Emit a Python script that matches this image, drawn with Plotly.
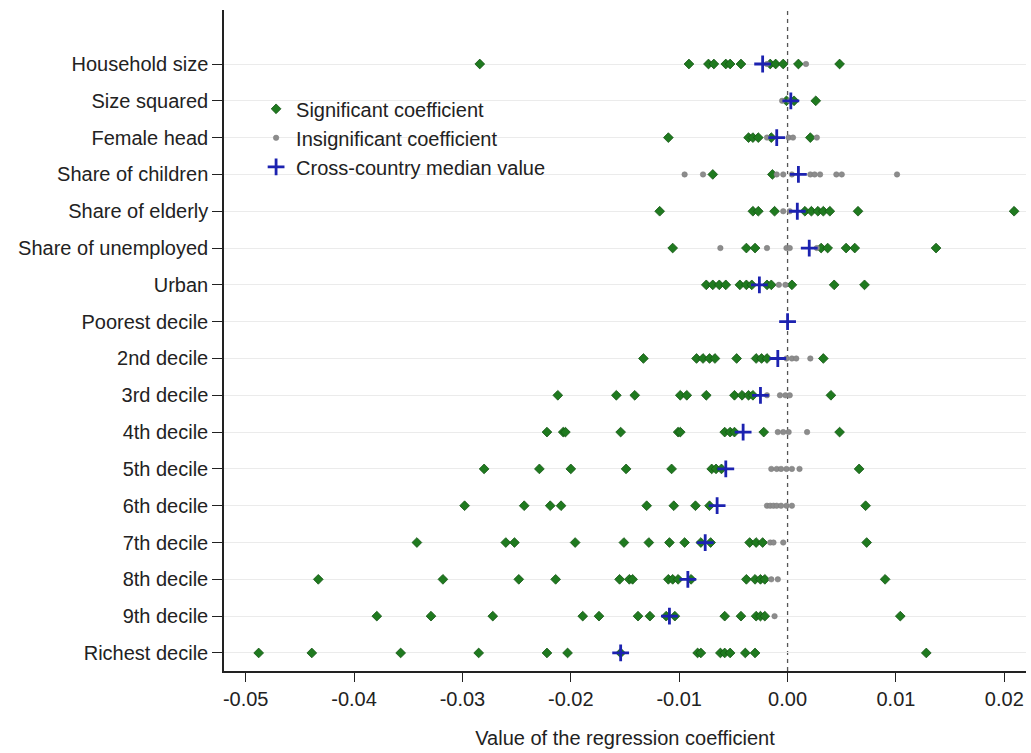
import plotly.graph_objects as go

# Categories, top to bottom
categories = [
    "Household size", "Size squared", "Female head", "Share of children",
    "Share of elderly", "Share of unemployed", "Urban", "Poorest decile",
    "2nd decile", "3rd decile", "4th decile", "5th decile", "6th decile",
    "7th decile", "8th decile", "9th decile", "Richest decile",
]

# Significant coefficients per category
sig_household_size = [-0.0284, -0.0091, -0.0073, -0.0068, -0.0057, -0.0053, -0.0043, -0.0016, -0.0011, -0.0004, 0.0010, 0.0048]
sig_size_squared = [-0.0001, 0.0006, 0.0026]
sig_female_head = [-0.0110, -0.0036, -0.0032, -0.0027, -0.0015, 0.0021]
sig_share_children = [-0.0069, -0.0014]
sig_share_elderly = [-0.0118, -0.0032, -0.0027, -0.0012, 0.0016, 0.0022, 0.0028, 0.0033, 0.0039, 0.0065, 0.0209]
sig_share_unemployed = [-0.0106, -0.0038, -0.0030, 0.0031, 0.0037, 0.0054, 0.0062, 0.0137]
sig_urban = [-0.0075, -0.0069, -0.0063, -0.0057, -0.0044, -0.0038, -0.0033, -0.0019, -0.0015, 0.0004, 0.0043, 0.0071]
sig_poorest = []
sig_2nd = [-0.0133, -0.0084, -0.0078, -0.0072, -0.0067, -0.0047, -0.0029, -0.0024, -0.0019, 0.0033]
sig_3rd = [-0.0212, -0.0158, -0.0141, -0.0099, -0.0093, -0.0075, -0.0049, -0.0042, -0.0036, -0.0032, 0.0040]
sig_4th = [-0.0222, -0.0207, -0.0205, -0.0154, -0.0101, -0.0099, -0.0058, -0.0053, -0.0049, -0.0022, 0.0048]
sig_5th = [-0.0280, -0.0229, -0.0200, -0.0149, -0.0107, -0.0070, -0.0066, -0.0061, 0.0066]
sig_6th = [-0.0298, -0.0243, -0.0219, -0.0209, -0.0130, -0.0105, -0.0085, -0.0072, 0.0072]
sig_7th = [-0.0342, -0.0260, -0.0252, -0.0196, -0.0151, -0.0128, -0.0109, -0.0095, -0.0080, -0.0071, -0.0035, -0.0029, -0.0023, 0.0073]
sig_8th = [-0.0433, -0.0318, -0.0248, -0.0214, -0.0155, -0.0146, -0.0143, -0.0110, -0.0106, -0.0101, -0.0089, -0.0038, -0.0030, -0.0025, -0.0021, 0.0090]
sig_9th = [-0.0379, -0.0329, -0.0272, -0.0189, -0.0174, -0.0138, -0.0127, -0.0112, -0.0104, -0.0058, -0.0043, -0.0029, -0.0025, -0.0021, 0.0104]
sig_richest = [-0.0488, -0.0439, -0.0357, -0.0285, -0.0222, -0.0203, -0.0154, -0.0083, -0.0080, -0.0062, -0.0058, -0.0053, -0.0039, -0.0030, 0.0128]

# Insignificant coefficients per category
ins_household_size = [-0.0019, 0.0017]
ins_size_squared = [-0.0005, 0.0002]
ins_female_head = [-0.0019, 0.0001, 0.0005, 0.0027]
ins_share_children = [-0.0095, -0.0078, -0.0010, -0.0004, 0.0004, 0.0021, 0.0025, 0.0030, 0.0045, 0.0050, 0.0101]
ins_share_elderly = [-0.0004, 0.0002]
ins_share_unemployed = [-0.0062, -0.0019, -0.0001, 0.0002, 0.0027]
ins_urban = [-0.0008, -0.0002]
ins_poorest = []
ins_2nd = [-0.0001, 0.0004, 0.0008, 0.0021]
ins_3rd = [-0.0019, -0.0007, -0.0002, 0.0002]
ins_4th = [-0.0009, -0.0004, 0.0001, 0.0018]
ins_5th = [-0.0015, -0.0010, -0.0006, -0.0001, 0.0004, 0.0011]
ins_6th = [-0.0019, -0.0016, -0.0013, -0.0010, -0.0006, -0.0001, 0.0004]
ins_7th = [-0.0016, -0.0013, -0.0004]
ins_8th = [-0.0015, -0.0009]
ins_9th = [-0.0012]
ins_richest = []

# Cross-country median value per category
medians = [-0.0023, 0.0003, -0.0010, 0.0010, 0.0009, 0.0020, -0.0026, 0.0000,
           -0.0009, -0.0025, -0.0041, -0.0057, -0.0065, -0.0076, -0.0092, -0.0109, -0.0154]

x_ticks = [-0.05, -0.04, -0.03, -0.02, -0.01, 0.00, 0.01, 0.02]
x_tick_labels = ["-0.05", "-0.04", "-0.03", "-0.02", "-0.01", "0.00", "0.01", "0.02"]

significant = [sig_household_size, sig_size_squared, sig_female_head, sig_share_children,
               sig_share_elderly, sig_share_unemployed, sig_urban, sig_poorest, sig_2nd,
               sig_3rd, sig_4th, sig_5th, sig_6th, sig_7th, sig_8th, sig_9th, sig_richest]
insignificant = [ins_household_size, ins_size_squared, ins_female_head, ins_share_children,
                 ins_share_elderly, ins_share_unemployed, ins_urban, ins_poorest, ins_2nd,
                 ins_3rd, ins_4th, ins_5th, ins_6th, ins_7th, ins_8th, ins_9th, ins_richest]

ypos = [-i for i in range(len(categories))]

sx, sy, ix, iy = [], [], [], []
for k, vals in enumerate(significant):
    sx += vals
    sy += [ypos[k]] * len(vals)
for k, vals in enumerate(insignificant):
    ix += vals
    iy += [ypos[k]] * len(vals)

FONT = "Liberation Sans, Arial, sans-serif"
FS = 20

fig = go.Figure()
fig.add_trace(go.Scatter(
    x=sx, y=sy, mode="markers", name="Significant coefficient",
    marker=dict(symbol="diamond", size=7.5, color="#1f7a1f",
                line=dict(color="#155515", width=0.8)),
))
fig.add_trace(go.Scatter(
    x=ix, y=iy, mode="markers", name="Insignificant coefficient",
    marker=dict(symbol="circle", size=5.5, color="#8c8c8c",
                line=dict(color="#7a7a7a", width=0.5)),
))
fig.add_trace(go.Scatter(
    x=medians, y=ypos, mode="markers", name="Cross-country median value",
    marker=dict(symbol="cross-thin-open", size=12, color="#1c22b0",
                line=dict(color="#1c22b0", width=2.8)),
))

fig.add_shape(type="line", xref="x", yref="paper", x0=0, x1=0, y0=0, y1=1,
              line=dict(color="#555555", width=1.3, dash="4px,4px"), layer="below")

fig.update_layout(
    width=1031, height=753,
    margin=dict(l=224, r=5, t=10, b=82, autoexpand=False),
    paper_bgcolor="white", plot_bgcolor="white",
    font=dict(family=FONT, size=FS, color="#222222"),
    showlegend=True,
    legend=dict(x=0.04, y=0.880, xanchor="left", yanchor="top",
                bgcolor="rgba(0,0,0,0)", font=dict(size=FS, color="#222222"),
                tracegroupgap=0, itemsizing="trace"),
    xaxis=dict(
        range=[-0.052, 0.022], tickvals=x_ticks, ticktext=x_tick_labels,
        showgrid=False, zeroline=False, showline=True, linecolor="#222222",
        linewidth=1.5, ticks="outside", ticklen=9, tickwidth=1.2, tickcolor="#222222",
        tickfont=dict(size=FS), automargin=False,
        title=dict(text="Value of the regression coefficient", font=dict(size=FS), standoff=22),
    ),
    yaxis=dict(
        range=[-16.49, 1.467], tickvals=ypos, ticktext=categories,
        showgrid=True, gridcolor="#ebebeb", gridwidth=1, zeroline=False,
        showline=True, linecolor="#222222", linewidth=1.5,
        ticks="outside", ticklen=10, tickwidth=1.2, tickcolor="#222222",
        tickfont=dict(size=FS), automargin=False,
    ),
)

fig.write_html("out.html")
